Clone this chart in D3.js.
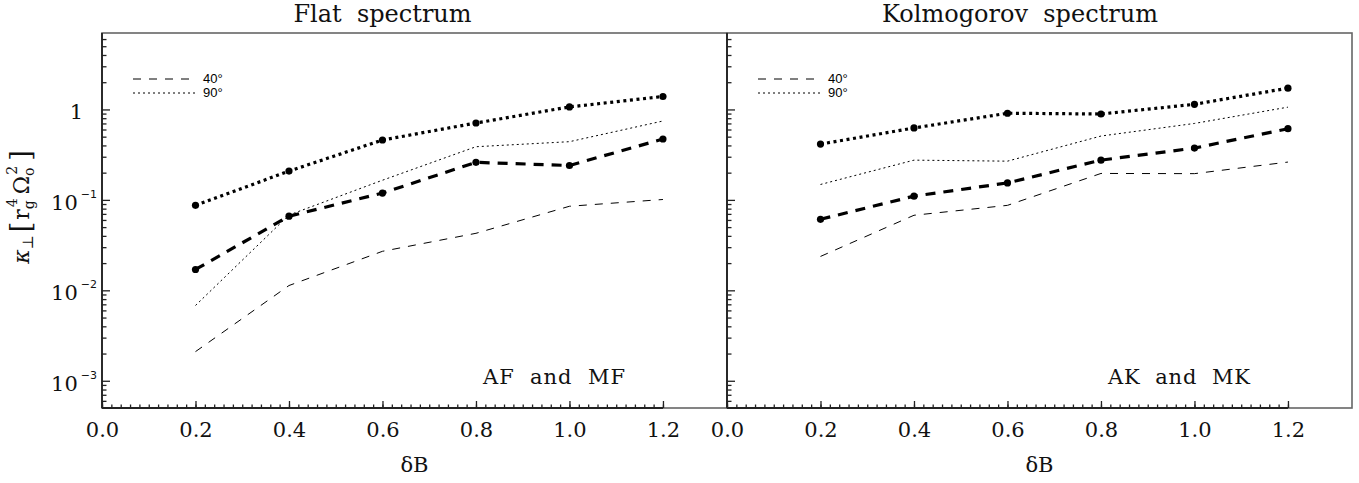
<!DOCTYPE html>
<html>
<head>
<meta charset="utf-8">
<script src="https://cdn.jsdelivr.net/npm/d3@7"></script>
<style>
  body { margin: 0; background: #fff; }
  svg { display: block; }
  .tick line { stroke: #222; stroke-width: 1.3; }
  .xlab text { font-family: "DejaVu Serif", serif; font-size: 21px; fill: #111; }
</style>
</head>
<body>
<div id="chart"></div>
<script>
// x values (delta B) and tick lists
var dB = [0.2, 0.4, 0.6, 0.8, 1.0, 1.2];
var xMajor = [0, 0.2, 0.4, 0.6, 0.8, 1.0, 1.2];
var yMajor = [1e-3, 1e-2, 1e-1, 1];

// Flat spectrum (AF and MF)
var flatThick90 = [0.087, 0.208, 0.459, 0.708, 1.066, 1.39];
var flatThin90  = [0.0068, 0.068, 0.165, 0.387, 0.44, 0.745];
var flatThick40 = [0.017, 0.066, 0.119, 0.26, 0.24, 0.471];
var flatThin40  = [0.0021, 0.0113, 0.027, 0.0427, 0.085, 0.101];

// Kolmogorov spectrum (AK and MK)
var kolThick90 = [0.414, 0.624, 0.908, 0.89, 1.14, 1.72];
var kolThin90  = [0.148, 0.275, 0.268, 0.508, 0.70, 1.06];
var kolThick40 = [0.061, 0.110, 0.154, 0.275, 0.374, 0.612];
var kolThin40  = [0.0237, 0.0676, 0.087, 0.196, 0.195, 0.262];

var titles = ["Flat  spectrum", "Kolmogorov  spectrum"];
var notes = ["AF  and  MF", "AK  and  MK"];
var legendLabels = ["40°", "90°"];

(function () {
var width = 1359, height = 483;
var plotTop = 33, plotBottom = 408;
var panelLeft = [102, 727];
var panelW = 625;

var svg = d3.select("#chart").append("svg")
    .attr("width", width)
    .attr("height", height);

var x = d3.scaleLinear().domain([0, 1.337]).range([0, panelW]);
var y = d3.scaleLog().domain([5e-4, 7]).range([plotBottom, plotTop]);

var xMinor = d3.range(0, 1.2001, 0.02).map(function(d) { return +d.toFixed(2); });
var yMinor = [];
[-4, -3, -2, -1, 0].forEach(function(k) {
  for (var m = 2; m <= 9; m++) {
    var v = m * Math.pow(10, k);
    if (v > 5.01e-4 && v < 7) yMinor.push(v);
  }
});

var styles = {
  thick90: { w: 3.2, dash: "3,3.6", dots: true },
  thin90:  { w: 1,   dash: "2,3",   dots: false },
  thick40: { w: 3.2, dash: "10,8",  dots: true },
  thin40:  { w: 1,   dash: "8,8",   dots: false }
};

var panels = [
  { series: [["thin40", flatThin40], ["thin90", flatThin90], ["thick40", flatThick40], ["thick90", flatThick90]], titleX: 280.5 },
  { series: [["thin40", kolThin40], ["thin90", kolThin90], ["thick40", kolThick40], ["thick90", kolThick90]], titleX: 293 }
];

var line = d3.line()
    .x(function(d) { return x(d[0]); })
    .y(function(d) { return y(d[1]); });

panels.forEach(function(p, i) {
  var g = svg.append("g").attr("transform", "translate(" + panelLeft[i] + ",0)");

  // grey frame
  g.append("rect")
    .attr("x", 0).attr("y", plotTop)
    .attr("width", panelW).attr("height", plotBottom - plotTop)
    .attr("fill", "none")
    .attr("stroke", "#666")
    .attr("stroke-width", 1.6);

  // minor ticks on x
  g.append("g")
    .attr("transform", "translate(0," + plotBottom + ")")
    .call(d3.axisBottom(x).tickValues(xMinor).tickSize(-3.5).tickFormat(""))
    .call(function(a) { a.select(".domain").remove(); });

  // major ticks + labels on x
  g.append("g")
    .attr("class", "xlab")
    .attr("transform", "translate(0," + plotBottom + ")")
    .call(d3.axisBottom(x).tickValues(xMajor).tickSize(-7).tickPadding(14).tickFormat(d3.format(".1f")))
    .call(function(a) { a.select(".domain").remove(); });

  // minor + major ticks on y
  g.append("g")
    .call(d3.axisLeft(y).tickValues(yMinor).tickSize(-4.5).tickFormat(""))
    .call(function(a) { a.select(".domain").remove(); });
  g.append("g")
    .call(d3.axisLeft(y).tickValues(yMajor).tickSize(-8).tickFormat(""))
    .call(function(a) { a.select(".domain").remove(); });

  // dark axis lines
  g.append("line")
    .attr("x1", 0).attr("x2", 0).attr("y1", plotTop).attr("y2", plotBottom)
    .attr("stroke", "#222").attr("stroke-width", 1.8);
  g.append("line")
    .attr("x1", 0).attr("x2", x(1.2)).attr("y1", plotBottom).attr("y2", plotBottom)
    .attr("stroke", "#222").attr("stroke-width", 1.8);

  // y labels only on the first panel
  if (i === 0) {
    yMajor.forEach(function(v) {
      var e = Math.round(Math.log10(v));
      var t = g.append("text")
        .attr("y", y(v) + 10)
        .attr("font-family", "DejaVu Serif, serif")
        .attr("font-size", 21)
        .attr("fill", "#111")
        .attr("text-anchor", "end");
      if (e === 0) {
        t.attr("x", -19).text("1");
      } else {
        t.attr("x", -5);
        t.append("tspan").text("10");
        t.append("tspan")
          .attr("dx", 3)
          .attr("dy", -12)
          .attr("font-family", "DejaVu Sans, sans-serif")
          .attr("font-size", 11)
          .text("\u2212" + Math.abs(e));
      }
    });
  }

  // series
  p.series.forEach(function(s) {
    var st = styles[s[0]];
    var pts = dB.map(function(d, j) { return [d, s[1][j]]; });
    g.append("path")
      .datum(pts)
      .attr("d", line)
      .attr("fill", "none")
      .attr("stroke", "#000")
      .attr("stroke-width", st.w)
      .attr("stroke-dasharray", st.dash);
    if (st.dots) {
      g.selectAll(null)
        .data(pts)
        .enter().append("circle")
        .attr("cx", function(d) { return x(d[0]); })
        .attr("cy", function(d) { return y(d[1]); })
        .attr("r", 3.6)
        .attr("fill", "#000");
    }
  });

  // legend
  var legDash = ["8,8", "2,3"];
  [0, 1].forEach(function(k) {
    var ly = 79 + k * 14;
    g.append("line")
      .attr("x1", 31).attr("x2", 93)
      .attr("y1", ly).attr("y2", ly)
      .attr("stroke", "#000").attr("stroke-width", 1)
      .attr("stroke-dasharray", legDash[k]);
    g.append("text")
      .attr("x", 101).attr("y", ly + 4)
      .attr("font-family", "Liberation Sans, sans-serif")
      .attr("font-size", 13)
      .attr("fill", "#000")
      .text(legendLabels[k]);
  });

  // title
  g.append("text")
    .attr("x", p.titleX).attr("y", 22)
    .attr("text-anchor", "middle")
    .attr("font-family", "DejaVu Serif, serif")
    .attr("font-size", 24)
    .attr("fill", "#111")
    .style("white-space", "pre")
    .text(titles[i]);

  // panel note
  g.append("text")
    .attr("x", x(0.815)).attr("y", y(9.3e-4))
    .attr("font-family", "DejaVu Serif, serif")
    .attr("font-size", 21)
    .attr("fill", "#111")
    .attr("textLength", 142)
    .attr("lengthAdjust", "spacing")
    .style("white-space", "pre")
    .text(notes[i]);

  // x title
  g.append("text")
    .attr("x", panelW / 2).attr("y", 472)
    .attr("text-anchor", "middle")
    .attr("font-family", "DejaVu Serif, serif")
    .attr("font-size", 21)
    .attr("fill", "#111")
    .text("\u03b4B");
});

// y title
var yt = svg.append("text")
    .attr("transform", "translate(29,207) rotate(-90)")
    .attr("text-anchor", "middle")
    .attr("font-family", "DejaVu Serif, serif")
    .attr("font-size", 22)
    .attr("fill", "#111");
yt.append("tspan").attr("font-style", "italic").text("\u03ba");
yt.append("tspan").attr("font-size", 15).attr("dy", 4).text("\u22a5");
yt.append("tspan").attr("font-size", 27).attr("dy", -3).attr("dx", 3).text("[");
yt.append("tspan").attr("dy", -1).attr("dx", 2).text("r");
yt.append("tspan").attr("font-size", 14).attr("dy", 5).text("g");
yt.append("tspan").attr("font-size", 14).attr("dy", -17).attr("dx", -7).text("4");
yt.append("tspan").attr("dy", 12).attr("dx", 4).text("\u03a9");
yt.append("tspan").attr("font-size", 14).attr("dy", 5).text("o");
yt.append("tspan").attr("font-size", 14).attr("dy", -17).attr("dx", -7).text("2");
yt.append("tspan").attr("font-size", 27).attr("dy", 13).attr("dx", 5).text("]");
})();
</script>
</body>
</html>
